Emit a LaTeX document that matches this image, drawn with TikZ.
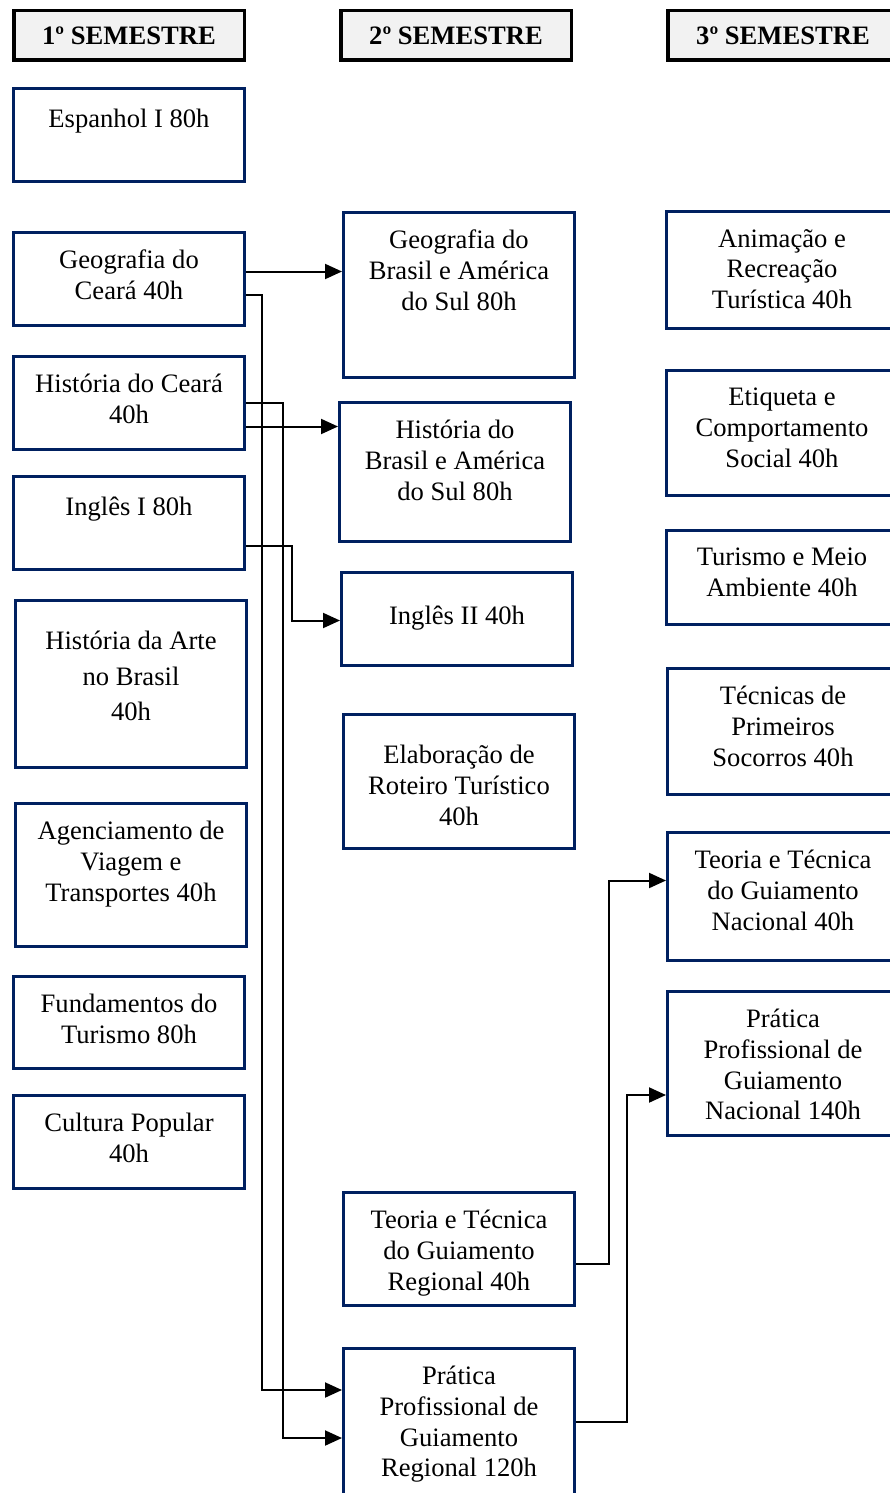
\documentclass[tikz,border=0pt]{standalone}
\usepackage{fontspec}
\setmainfont{Liberation Serif}
\usetikzlibrary{arrows.meta,positioning}
\definecolor{navy}{HTML}{002060}
\definecolor{headgray}{HTML}{F2F2F2}
\newcommand{\subjfont}{\fontsize{26.6}{30.7}\selectfont}

\begin{document}
\begin{tikzpicture}
[x=1pt, y=-1pt,
semester/.style={draw=black, line width=3.5pt, fill=headgray, minimum width=230.5pt, minimum height=49.5pt, anchor=north west, inner sep=0pt, font=\subjfont\bfseries},
subject/.style={draw=navy, line width=3pt, fill=white, minimum width=231pt, anchor=north west, inner sep=0pt},
subtext/.style={anchor=north, align=center, inner sep=0pt, font=\subjfont, execute at begin node=\strut, yshift=-19pt},
deeptext/.style={subtext, yshift=-13pt},
arrow/.style={line width=2pt, -{Triangle[length=17pt,width=15pt]}}]
\useasboundingbox (0,0) rectangle (889,1493);

\node (sem1) [semester] at (12,9) {1º SEMESTRE};
\node (sem2) [semester] at (339,9) {2º SEMESTRE};
\node (sem3) [semester] at (666,9) {3º SEMESTRE};

% 1o semestre
\node (espI) [subject, minimum height=93pt, label={[subtext]north:{Espanhol I 80h}}] at (12,87) {};
\node (geoCE) [subject, minimum height=93pt, label={[subtext]north:{Geografia do\\Ceará 40h}}] at (12,231) {};
\node (hisCE) [subject, minimum height=93pt, label={[subtext]north:{História do Ceará\\40h}}] at (12,355) {};
\node (ingI) [subject, minimum height=93pt, label={[subtext]north:{Inglês I 80h}}] at (12,475) {};
\node (arte) [subject, minimum height=167pt, label={[deeptext]north:{História da Arte\\[4.8pt]no Brasil\\[4.8pt]40h}}] at (14,599) {};
\node (agen) [subject, minimum height=143pt, label={[subtext]north:{Agenciamento de\\Viagem e\\Transportes 40h}}] at (14,802) {};
\node (fund) [subject, minimum height=92pt, label={[subtext]north:{Fundamentos do\\Turismo 80h}}] at (12,975) {};
\node (cult) [subject, minimum height=93pt, label={[subtext]north:{Cultura Popular\\40h}}] at (12,1094) {};

% 2o semestre
\node (geoBR) [subject, minimum height=165pt, label={[subtext]north:{Geografia do\\Brasil e América\\do Sul 80h}}] at (342,211) {};
\node (hisBR) [subject, minimum height=139pt, label={[subtext]north:{História do\\Brasil e América\\do Sul 80h}}] at (338,401) {};
\node (ingII) [subject, minimum height=93pt, label={[deeptext]north:{Inglês II 40h}}] at (340,571) {};
\node (elab) [subject, minimum height=134pt, label={[deeptext]north:{Elaboração de\\Roteiro Turístico\\40h}}] at (342,713) {};
\node (teoR) [subject, minimum height=113pt, label={[subtext]north:{Teoria e Técnica\\do Guiamento\\Regional 40h}}] at (342,1191) {};
\node (pratR) [subject, minimum height=167pt, label={[subtext]north:{Prática\\Profissional de\\Guiamento\\Regional 120h}}] at (342,1347) {};

% 3o semestre
\node (anim) [subject, minimum height=117pt, label={[subtext]north:{Animação e\\Recreação\\Turística 40h}}] at (665,210) {};
\node (etiq) [subject, minimum height=125pt, label={[subtext]north:{Etiqueta e\\Comportamento\\Social 40h}}] at (665,369) {};
\node (meio) [subject, minimum height=94pt, label={[subtext]north:{Turismo e Meio\\Ambiente 40h}}] at (665,529) {};
\node (socor) [subject, minimum height=126pt, label={[subtext]north:{Técnicas de\\Primeiros\\Socorros 40h}}] at (666,667) {};
\node (teoN) [subject, minimum height=128pt, label={[subtext]north:{Teoria e Técnica\\do Guiamento\\Nacional 40h}}] at (666,831) {};
\node (pratN) [subject, minimum height=144pt, label={[subtext]north:{Prática\\Profissional de\\Guiamento\\Nacional 140h}}] at (666,990) {};

\draw[arrow] ([yshift=7.5pt]geoCE.east) -- ([yshift=7.5pt]geoCE.east -| geoBR.west);
\draw[arrow] ([yshift=-15.5pt]geoCE.east) -- ++(16pt,0) |- ([yshift=-43pt]pratR.north west);
\draw[arrow] ([yshift=0.5pt]hisCE.east) -- ++(37pt,0) |- ([yshift=-91pt]pratR.north west);
\draw[arrow] ([yshift=-23.5pt]hisCE.east) -- ([yshift=-23.5pt]hisCE.east -| hisBR.west);
\draw[arrow] ([yshift=-22.5pt]ingI.east) -- ++(46pt,0) |- ([yshift=-1.5pt]ingII.west);
\draw[arrow] ([yshift=-14.5pt]teoR.east) -- ++(33pt,0) |- ([yshift=16pt]teoN.west);
\draw[arrow] ([yshift=-75pt]pratR.north east) -- ++(51pt,0) |- ([yshift=-31.5pt]pratN.west);

\end{tikzpicture}
\end{document}
